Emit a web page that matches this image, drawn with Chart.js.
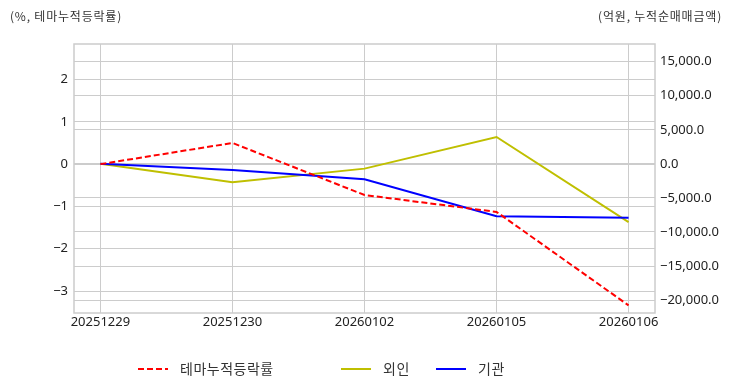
<!DOCTYPE html>
<html>
<head>
<meta charset="utf-8">
<script src="https://cdn.jsdelivr.net/npm/chart.js@4"></script>
<style>
html,body{margin:0;padding:0;background:#fff;}
#wrap{position:relative;width:732px;height:392px;}
</style>
</head>
<body>
<div id="wrap"><canvas id="c" width="732" height="392"></canvas></div>
<script>
const categories = ['20251229', '20251230', '20260102', '20260105', '20260106'];
const themeReturn = [0, 0.50, -0.73, -1.13, -3.34];
const foreignNet = [0, -2700, -700, 3950, -8550];
const instNet = [0, -900, -2250, -7700, -7900];
const leftTicks = [-3, -2, -1, 0, 1, 2];
const rightTicks = [-20000, -15000, -10000, -5000, 0, 5000, 10000, 15000];
const leftTitle = '(%, 테마누적등락률)';
const rightTitle = '(억원, 누적순매매금액)';
const seriesNames = ['테마누적등락률', '외인', '기관'];

const toPts = arr => arr.map((v, i) => ({x: i, y: v}));
const minus = s => s.replace('-', '\u2212');
const tickFont = {family: '"Noto Sans", "Open Sans", sans-serif', size: 13};
const gridColor = '#cccccc';

const frame = {
  id: 'frame',
  beforeDatasetsDraw(chart) {
    const a = chart.chartArea, ctx = chart.ctx;
    ctx.save();
    ctx.strokeStyle = '#cccccc';
    ctx.lineWidth = 1.5;
    ctx.strokeRect(a.left, a.top, a.right - a.left, a.bottom - a.top);
    ctx.restore();
  },
  afterDraw(chart) {
    const ctx = chart.ctx;
    ctx.save();
    ctx.fillStyle = '#333';
    ctx.font = '12px "Noto Sans CJK KR", sans-serif';
    ctx.letterSpacing = '0.8px';
    ctx.textBaseline = 'middle';
    ctx.textAlign = 'left';
    ctx.fillText(leftTitle, 10, 16);
    ctx.textAlign = 'right';
    ctx.fillText(rightTitle, 722, 16);
    // legend
    const xs = [138, 341, 436];
    const y = 369;
    chart.data.datasets.forEach((ds, i) => {
      const x = xs[i];
      ctx.beginPath();
      ctx.strokeStyle = ds.borderColor;
      ctx.lineWidth = ds.borderWidth;
      ctx.setLineDash(ds.borderDash || []);
      ctx.moveTo(x, y);
      ctx.lineTo(x + 30, y);
      ctx.stroke();
      ctx.setLineDash([]);
      ctx.fillStyle = '#333';
      ctx.font = '14px "Noto Sans CJK KR", sans-serif';
      ctx.letterSpacing = '0.5px';
      ctx.textAlign = 'left';
      ctx.fillText(ds.label, x + 42, y);
    });
    ctx.restore();
  }
};

new Chart(document.getElementById('c'), {
  type: 'line',
  data: {
    datasets: [
      {label: seriesNames[0], data: toPts(themeReturn), yAxisID: 'y', borderColor: '#ff0000', backgroundColor: '#ff0000', borderDash: [6, 3], borderWidth: 2, order: 0},
      {label: seriesNames[1], data: toPts(foreignNet), yAxisID: 'y1', borderColor: '#bfbf00', backgroundColor: '#bfbf00', borderWidth: 2, order: 2},
      {label: seriesNames[2], data: toPts(instNet), yAxisID: 'y1', borderColor: '#0000ff', backgroundColor: '#0000ff', borderWidth: 2, order: 1}
    ]
  },
  options: {
    responsive: false,
    animation: false,
    events: [],
    elements: {point: {radius: 0}, line: {tension: 0}},
    layout: {padding: {top: 44, left: 0, right: 0, bottom: 49}},
    scales: {
      x: {
        type: 'linear',
        min: -0.2, max: 4.2,
        afterBuildTicks: s => { s.ticks = categories.map((c, i) => ({value: i})); },
        afterFit: s => { s.height = 30; },
        ticks: {callback: v => categories[v], color: '#222', font: tickFont, padding: 1, maxRotation: 0, autoSkip: false},
        grid: {color: gridColor, lineWidth: 1, drawTicks: false},
        border: {display: false}
      },
      y: {
        position: 'left',
        min: -3.52, max: 2.84,
        afterBuildTicks: s => { s.ticks = leftTicks.map(v => ({value: v})); },
        afterFit: s => { s.width = 74; },
        ticks: {callback: v => minus(String(v)), color: '#222', font: tickFont, padding: 6},
        grid: {color: gridColor, lineWidth: 1, drawTicks: false},
        border: {display: false}
      },
      y1: {
        position: 'right',
        min: -21900, max: 17600,
        afterBuildTicks: s => { s.ticks = rightTicks.map(v => ({value: v})); },
        afterFit: s => { s.width = 77; },
        ticks: {callback: v => minus(v.toLocaleString('en-US', {minimumFractionDigits: 1, maximumFractionDigits: 1})), color: '#222', font: tickFont, padding: 5},
        grid: {color: gridColor, lineWidth: 1, drawTicks: false},
        border: {display: false}
      }
    },
    plugins: {
      tooltip: {enabled: false},
      legend: {display: false}
    }
  },
  plugins: [frame]
});
</script>
</body>
</html>
